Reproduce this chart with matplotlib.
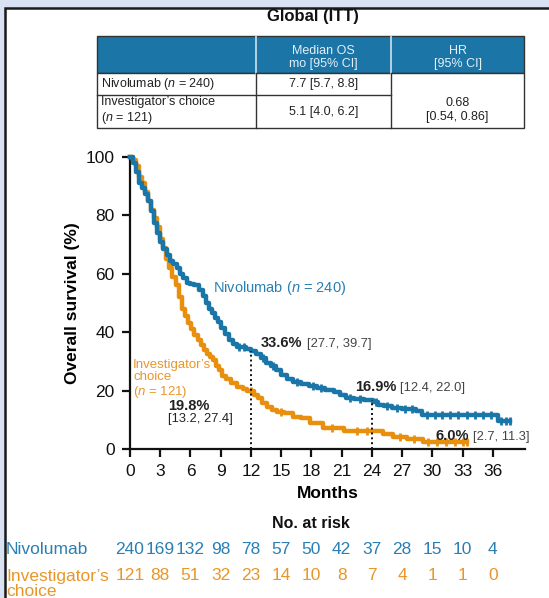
import numpy as np
import matplotlib
matplotlib.use("Agg")
import matplotlib.pyplot as plt
from matplotlib.patches import Rectangle
from matplotlib import transforms

plt.rcParams['font.family'] = ['Liberation Sans', 'DejaVu Sans']
plt.rcParams['mathtext.fontset'] = 'custom'
plt.rcParams['mathtext.rm'] = 'Liberation Sans'
plt.rcParams['mathtext.it'] = 'Liberation Sans:italic'
plt.rcParams['mathtext.bf'] = 'Liberation Sans:bold'

# ---------------- data ----------------
niv_t = [0, 0.3, 0.6, 0.9, 1.2, 1.5, 1.8, 2.1, 2.4, 2.7, 3.0, 3.3, 3.7, 4.0, 4.3, 4.7,
         5.0, 5.3, 5.7, 6.0, 6.4, 6.8, 7.2, 7.5, 7.8, 8.1, 8.4, 8.7, 9.0, 9.4, 9.8,
         10.2, 10.6, 11.0, 11.5, 12.0, 12.5, 13.0, 13.5, 14.0, 14.5, 15.0, 15.6, 16.2,
         17.0, 17.8, 18.6, 19.4, 20.2, 20.8, 21.4, 22.2, 23.2, 24.1, 24.6, 25.2, 26.0,
         27.0, 28.4, 29.0, 36.5, 37.7]
niv_s = [100, 98, 95, 91, 89.5, 87.5, 85, 81.5, 77.5, 74, 71, 68.5, 66.5, 64.5, 63.5, 62,
         60, 58.5, 57, 56.5, 56, 54.5, 52.5, 50, 48, 46.5, 45, 43.5, 41.5, 39.5, 37.5,
         36, 35, 34.8, 34.3, 33.6, 32.5, 31, 29.5, 28.5, 27, 25.5, 24, 23,
         22.3, 21.6, 20.8, 20.3, 19.5, 18.5, 17.5, 17.1, 16.9, 16.0, 15.2, 14.6, 14.2,
         13.8, 13.0, 11.8, 9.5, 9.5]
inv_t = [0, 0.3, 0.6, 0.9, 1.2, 1.5, 1.8, 2.1, 2.4, 2.7, 3.0, 3.3, 3.6, 3.9, 4.2, 4.6,
         4.9, 5.2, 5.5, 5.8, 6.1, 6.4, 6.7, 7.0, 7.3, 7.6, 7.9, 8.2, 8.5, 8.8, 9.1,
         9.5, 10.0, 10.6, 11.2, 11.6, 12.3, 12.7, 13.1, 13.6, 14.1, 14.6, 15.3, 16.2,
         17.0, 17.9, 19.2, 21.2, 25.1, 26.1, 27.5, 29.1, 33.4]
inv_s = [100, 99, 97, 93, 91, 88, 85, 82, 79, 76, 72, 69, 65, 62, 59, 56,
         52, 48, 45.5, 43, 41, 39, 37.5, 35.5, 34, 32.5, 31.5, 30.5, 28.5, 27, 25,
         24, 22.5, 21.3, 20.5, 19.8, 18.5, 17.5, 15.8, 14.5, 13.4, 12.8, 12.2, 11.1,
         10.5, 9.0, 7.3, 6.0, 5.0, 4.2, 3.5, 2.3, 2.3]
niv_censor = [10.8, 11.3, 13.2, 14.2, 16.6, 18.2, 19.0, 21.8, 22.8, 24.4, 25.5, 26.5,
              27.3, 28.0, 29.5, 30.3, 31.0, 31.8, 32.6, 33.4, 34.2, 35.0, 35.8, 36.8,
              37.3, 37.7]
inv_censor = [12.0, 15.0, 20.0, 22.5, 23.5, 26.8, 28.2, 29.6, 30.5, 31.4, 32.3, 33.0, 33.4]

months = [0, 3, 6, 9, 12, 15, 18, 21, 24, 27, 30, 33, 36]
risk_niv = [240, 169, 132, 98, 78, 57, 50, 42, 37, 28, 15, 10, 4]
risk_inv = [121, 88, 51, 32, 23, 14, 10, 8, 7, 4, 1, 1, 0]

landmarks = [12, 24]
niv_land = [33.6, 16.9]
# --------------------------------------

BLUE = '#1a76a8'
ORANGE = '#e8900e'
BLUE_T = '#2a7fb3'
ORANGE_T = '#e8962a'

fig = plt.figure(figsize=(5.49, 5.98), dpi=100)
fig.patch.set_facecolor('#d9e2f3')

pax = fig.add_axes([0, 0, 1, 1], zorder=0)
pax.set_xlim(0, 549)
pax.set_ylim(598, 0)
pax.axis('off')
pax.add_patch(Rectangle((5, 7.5), 600, 620, facecolor='white', edgecolor='#1a1a1a', lw=1.8, zorder=0.5))

# title
pax.text(313, 21.5, 'Global (ITT)', ha='center', va='baseline', fontsize=12, fontweight='bold',
         color='#111', zorder=5)

# table
x0, x1, x2, x3 = 97, 256, 391, 524
yh0, yh1, yr1, yr2 = 36, 73, 95, 128
pax.add_patch(Rectangle((x0, yh0), x3 - x0, yh1 - yh0, facecolor='#1b75a7', edgecolor='#333', lw=1))
for xx in (x1, x2):
    pax.plot([xx, xx], [yh0, yh1], color='#cfe3ee', lw=1.2)
pax.add_patch(Rectangle((x0, yh1), x3 - x0, yr2 - yh1, facecolor='white', edgecolor='#333', lw=1))
pax.plot([x1, x1], [yh1, yr2], color='#333', lw=1)
pax.plot([x2, x2], [yh1, yr2], color='#333', lw=1)
pax.plot([x0, x2], [yr1, yr1], color='#333', lw=1)
tc = '#222'
hc = '#e4f0f6'
fs_t = 9
pax.text((x1 + x2) / 2, 57.5, 'Median OS\nmo [95% CI]', ha='center', va='center', fontsize=fs_t, color=hc, linespacing=1.2)
pax.text((x2 + x3) / 2, 57.5, 'HR\n[95% CI]', ha='center', va='center', fontsize=fs_t, color=hc, linespacing=1.2)
pax.text(101, 84.5, r'Nivolumab ($\it{n}$ = 240)', ha='left', va='center', fontsize=fs_t, color=tc)
pax.text((x1 + x2) / 2, 84.5, '7.7 [5.7, 8.8]', ha='center', va='center', fontsize=fs_t, color=tc)
pax.text(101, 111, "Investigator\u2019s choice\n" + r'($\it{n}$ = 121)', ha='left', va='center', fontsize=fs_t, color=tc, linespacing=1.2)
pax.text((x1 + x2) / 2, 112, '5.1 [4.0, 6.2]', ha='center', va='center', fontsize=fs_t, color=tc)
pax.text((x2 + x3) / 2, 110, '0.68\n[0.54, 0.86]', ha='center', va='center', fontsize=fs_t, color=tc, linespacing=1.2)

# main KM axes
ax = fig.add_axes([130 / 549, 1 - 449 / 598, 395 / 549, 292 / 598], zorder=2)
ax.patch.set_alpha(0)
ax.step(niv_t, niv_s, where='post', color=BLUE, lw=3.2, clip_on=False, zorder=4)
ax.step(inv_t, inv_s, where='post', color=ORANGE, lw=3.2, clip_on=False, zorder=3)

def step_at(t_arr, s_arr, tt):
    idx = np.searchsorted(np.asarray(t_arr), tt, side='right') - 1
    return np.asarray(s_arr)[idx]

ax.plot(niv_censor, step_at(niv_t, niv_s, niv_censor), ls='none', marker='|', ms=6, mew=2,
        color=BLUE, clip_on=False, zorder=4)
ax.plot(inv_censor, step_at(inv_t, inv_s, inv_censor), ls='none', marker='|', ms=6, mew=2,
        color=ORANGE, clip_on=False, zorder=3)

for m, v in zip(landmarks, niv_land):
    ax.plot([m, m], [0, v], ls=(0, (1, 1.5)), color='#111', lw=1.4, zorder=5)

ax.set_xlim(0, 39.2)
ax.set_ylim(0, 100)
ax.set_xticks(months)
ax.set_yticks([0, 20, 40, 60, 80, 100])
for s in ('top', 'right'):
    ax.spines[s].set_visible(False)
for s in ('left', 'bottom'):
    ax.spines[s].set_linewidth(1.6)
    ax.spines[s].set_color('#111')
ax.tick_params(axis='both', length=6, width=1.6, labelsize=12.5, pad=5, color='#111', labelcolor='#111')
ax.set_xlabel('Months', fontsize=12.5, fontweight='bold', labelpad=5)
ax.set_ylabel('Overall survival (%)', fontsize=12.5, fontweight='bold', labelpad=4)

# annotations
ax.text(8.2, 55.1, r'Nivolumab ($\it{n}$ = 240)', color=BLUE_T, fontsize=10.5, ha='left', va='center')
ax.text(0.3, 23.8, "Investigator\u2019s\nchoice\n" + r'($\it{n}$ = 121)', color=ORANGE_T, fontsize=9.5,
        ha='left', va='center', linespacing=1.05)
ax.text(3.8, 14.7, '19.8%', fontsize=10.5, fontweight='bold', ha='left', va='center', color='#222')
ax.text(3.8, 10.2, '[13.2, 27.4]', fontsize=9.3, ha='left', va='center', color='#222')

def pct_label(x, y, big, small):
    t1 = ax.text(x, y, big, fontsize=10.5, fontweight='bold', ha='left', va='baseline', color='#222')
    ax.annotate(small, xy=(1, 0), xycoords=t1, xytext=(3, 0), textcoords='offset points',
                fontsize=9.3, ha='left', va='bottom', color='#444')

pct_label(13.0, 35.0, '33.6%', '[27.7, 39.7]')
pct_label(22.3, 20.0, '16.9%', '[12.4, 22.0]')
pct_label(30.3, 3.2, '6.0%', '[2.7, 11.3]')

# number at risk
tr = transforms.blended_transform_factory(ax.transData, pax.transData)
pax.text(18, 523, 'No. at risk', transform=tr, ha='center', va='center', fontsize=11.5,
         fontweight='bold', color='#111')
for m, a, b in zip(months, risk_niv, risk_inv):
    pax.text(m, 549, str(a), transform=tr, ha='center', va='center', fontsize=12.5, color=BLUE_T)
    pax.text(m, 576, str(b), transform=tr, ha='center', va='center', fontsize=12.5, color=ORANGE_T)
pax.text(6, 549, 'Nivolumab', ha='left', va='center', fontsize=12.5, color=BLUE_T)
pax.text(6, 584, "Investigator\u2019s\nchoice", ha='left', va='center', fontsize=12.5, color=ORANGE_T,
         linespacing=0.95)

fig.savefig('out.png', dpi=100, facecolor=fig.get_facecolor())
